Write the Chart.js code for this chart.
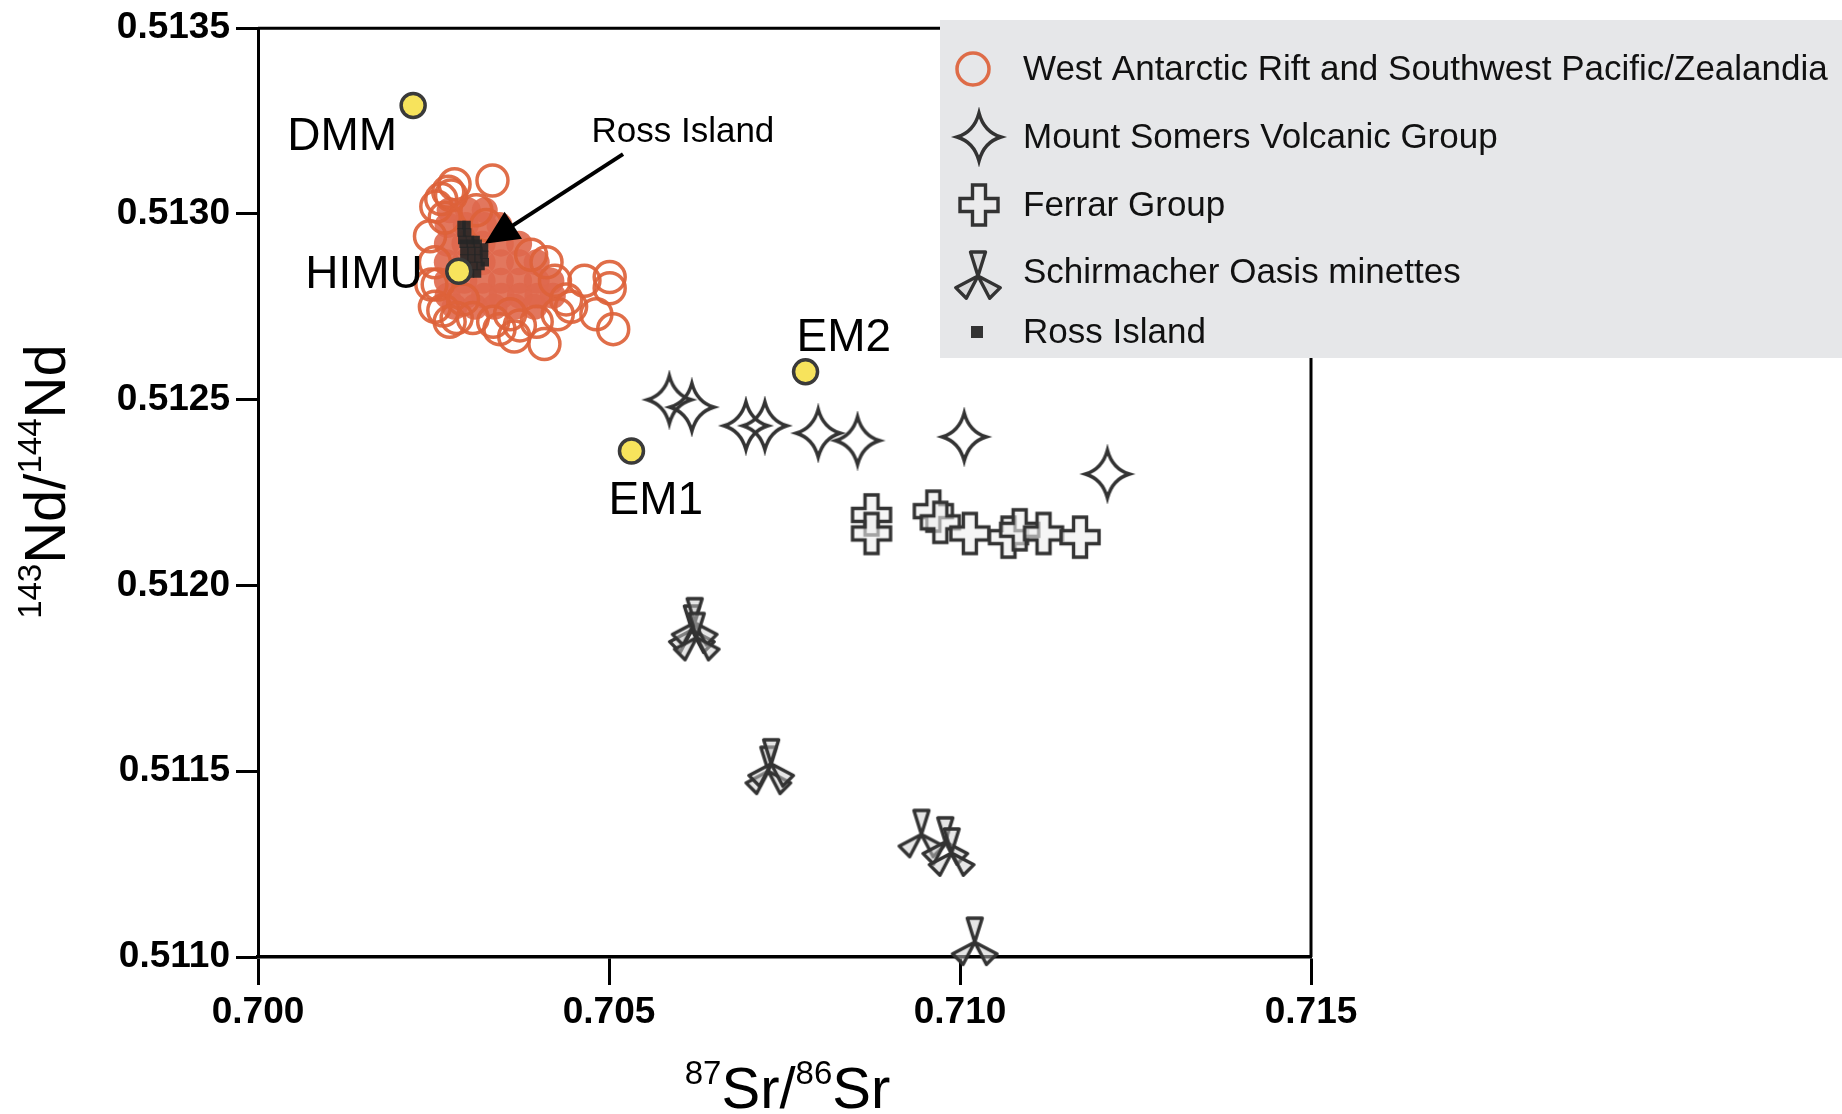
<!DOCTYPE html>
<html>
<head>
<meta charset="utf-8">
<title>87Sr/86Sr vs 143Nd/144Nd</title>
<script src="https://cdn.jsdelivr.net/npm/chart.js@4.4.1/dist/chart.umd.min.js"></script>
<style>
    html, body { margin: 0; padding: 0; background: #fff; }
    #wrap { width: 1842px; height: 1114px; }
</style>
</head>
<body>
<div id="wrap"><canvas id="srNdChart" width="1842" height="1114"></canvas></div>
<script>
// ======================
// Data (87Sr/86Sr, 143Nd/144Nd)
// ======================
const xTicks = [0.700, 0.705, 0.710, 0.715];
const xTickLabels = ['0.700', '0.705', '0.710', '0.715'];
const yTicks = [0.5110, 0.5115, 0.5120, 0.5125, 0.5130, 0.5135];
const yTickLabels = ['0.5110', '0.5115', '0.5120', '0.5125', '0.5130', '0.5135'];

// West Antarctic Rift and Southwest Pacific/Zealandia - open rings
const warRings = [
    [0.70334, 0.51309], [0.70271, 0.51306], [0.70275, 0.51305], [0.70254, 0.51302],
    [0.70261, 0.51304], [0.70245, 0.51294], [0.70252, 0.51287], [0.70256, 0.51281],
    [0.70252, 0.51275], [0.70264, 0.51274], [0.70283, 0.51272], [0.70306, 0.51272],
    [0.70292, 0.51277], [0.70335, 0.51271], [0.70373, 0.51270], [0.70311, 0.51301],
    [0.70325, 0.51297], [0.70389, 0.51289], [0.70411, 0.51287], [0.70423, 0.51282],
    [0.70465, 0.51282], [0.70501, 0.51283], [0.70501, 0.51280], [0.70446, 0.51275],
    [0.70482, 0.51273], [0.70506, 0.51269], [0.70408, 0.51265], [0.70397, 0.51271],
    [0.70427, 0.51273], [0.70439, 0.51277], [0.70359, 0.51273], [0.70280, 0.51308],
    [0.70266, 0.51299], [0.70247, 0.51281], [0.70273, 0.51271], [0.70365, 0.51267],
    [0.70344, 0.51269]
];

// densely packed part of the same group
const warCore = [
    [0.70273, 0.51301], [0.70299, 0.51301], [0.70323, 0.51301],
    [0.70270, 0.51297], [0.70296, 0.51297], [0.70322, 0.51297], [0.70344, 0.51297],
    [0.70269, 0.51292], [0.70294, 0.51292], [0.70320, 0.51292], [0.70346, 0.51292], [0.70372, 0.51292],
    [0.70269, 0.51287], [0.70294, 0.51287], [0.70320, 0.51287], [0.70346, 0.51287], [0.70372, 0.51287], [0.70397, 0.51287],
    [0.70269, 0.51282], [0.70294, 0.51282], [0.70320, 0.51282], [0.70346, 0.51282], [0.70372, 0.51282], [0.70397, 0.51282], [0.70418, 0.51282],
    [0.70270, 0.51278], [0.70296, 0.51278], [0.70322, 0.51278], [0.70347, 0.51278], [0.70373, 0.51278], [0.70398, 0.51278], [0.70420, 0.51278],
    [0.70280, 0.51275], [0.70309, 0.51275], [0.70337, 0.51275], [0.70366, 0.51275], [0.70394, 0.51275]
];

const mountSomers = [
    [0.70586, 0.51250], [0.70618, 0.51248], [0.70695, 0.51243], [0.70722, 0.51243],
    [0.70798, 0.51241], [0.70854, 0.51239], [0.71006, 0.51240], [0.71210, 0.51230]
];

const ferrar = [
    [0.70874, 0.51219], [0.70874, 0.51214], [0.70962, 0.51220], [0.70972, 0.51217],
    [0.71014, 0.51214], [0.71069, 0.51213], [0.71085, 0.51215], [0.71119, 0.51214],
    [0.71171, 0.51213]
];

const schirmacher = [
    [0.70618, 0.51188], [0.70622, 0.51190], [0.70625, 0.51186],
    [0.70727, 0.51150], [0.70731, 0.51152],
    [0.70945, 0.51133], [0.70979, 0.51131], [0.70988, 0.51128],
    [0.71021, 0.51104]
];

const rossIsland = [
    [0.70290, 0.51297], [0.70297, 0.51297], [0.70290, 0.51295], [0.70298, 0.51295],
    [0.70291, 0.51293], [0.70302, 0.51293], [0.70310, 0.51293], [0.70293, 0.51292],
    [0.70303, 0.51292], [0.70313, 0.51292], [0.70322, 0.51291], [0.70294, 0.51290],
    [0.70304, 0.51290], [0.70314, 0.51290], [0.70322, 0.51289], [0.70294, 0.51288],
    [0.70304, 0.51288], [0.70314, 0.51288], [0.70323, 0.51287], [0.70297, 0.51286],
    [0.70307, 0.51286], [0.70317, 0.51286], [0.70302, 0.51284], [0.70312, 0.51284]
];

// mantle end-members
const reservoirNames = ['DMM', 'HIMU', 'EM2', 'EM1'];
const reservoirSr = [0.70221, 0.70286, 0.70780, 0.70532];
const reservoirNd = [0.513292, 0.512846, 0.512575, 0.512362];

// Ross Island call-out (data units)
const rossLabelAt = [0.70475, 0.513195];
const rossArrowFrom = [0.70520, 0.513161];
const rossArrowTo = [0.70323, 0.512920];

const legendNames = [
    'West Antarctic Rift and Southwest Pacific/Zealandia',
    'Mount Somers Volcanic Group',
    'Ferrar Group',
    'Schirmacher Oasis minettes',
    'Ross Island'
];

const toPts = arr => arr.map(([x, y]) => ({ x, y }));

// ======================
// Marker glyphs
// ======================
const INK = '#333333';
const RING = 'rgba(221, 98, 58, 0.92)';

function makeMarker(size, draw) {
    const c = document.createElement('canvas');
    c.width = size;
    c.height = size;
    const g = c.getContext('2d');
    g.translate(size / 2, size / 2);
    draw(g);
    return c;
}

const starMark = makeMarker(60, g => {
    g.beginPath();
    g.moveTo(0, -24);
    g.quadraticCurveTo(5, -5, 22, 0);
    g.quadraticCurveTo(5, 5, 0, 24);
    g.quadraticCurveTo(-5, 5, -22, 0);
    g.quadraticCurveTo(-5, -5, 0, -24);
    g.closePath();
    g.lineWidth = 3.4;
    g.strokeStyle = INK;
    g.miterLimit = 6;
    g.stroke();
});

const crossMark = makeMarker(50, g => {
    const a = 6.5, h = 19, v = 20;
    g.beginPath();
    g.moveTo(-a, -v); g.lineTo(a, -v); g.lineTo(a, -a); g.lineTo(h, -a);
    g.lineTo(h, a); g.lineTo(a, a); g.lineTo(a, v); g.lineTo(-a, v);
    g.lineTo(-a, a); g.lineTo(-h, a); g.lineTo(-h, -a); g.lineTo(-a, -a);
    g.closePath();
    g.fillStyle = 'rgba(238, 238, 238, 0.6)';
    g.fill();
    g.lineWidth = 3.4;
    g.strokeStyle = INK;
    g.stroke();
});

const tripodMark = makeMarker(60, g => {
    [0, 135, -135].forEach(deg => {
        g.save();
        g.rotate(deg * Math.PI / 180);
        g.beginPath();
        g.moveTo(0, 0);
        g.lineTo(-7.5, -24);
        g.lineTo(7.5, -24);
        g.closePath();
        g.fillStyle = 'rgba(205, 205, 205, 0.5)';
        g.fill();
        g.lineWidth = 3.4;
        g.strokeStyle = INK;
        g.lineJoin = 'round';
        g.stroke();
        g.restore();
    });
});

// ======================
// Helpers for text with superscripts
// ======================
const FONT = '"Liberation Sans", Arial, Helvetica, sans-serif';

function drawRich(ctx, parts, cx, baseY, big, small) {
    let total = 0;
    parts.forEach(p => {
        ctx.font = (p.sup ? small : big) + 'px ' + FONT;
        p.w = ctx.measureText(p.t).width;
        total += p.w;
    });
    let x = cx - total / 2;
    ctx.textAlign = 'left';
    ctx.textBaseline = 'alphabetic';
    parts.forEach(p => {
        ctx.font = (p.sup ? small : big) + 'px ' + FONT;
        ctx.fillText(p.t, x, p.sup ? baseY - big * 0.42 : baseY);
        x += p.w;
    });
}

// ======================
// Overlay plugin: frame, call-outs, titles, legend
// ======================
const overlay = {
    id: 'overlay',
    beforeDatasetsDraw(chart) {
        const { ctx, chartArea: a } = chart;
        ctx.save();
        ctx.strokeStyle = '#000';
        ctx.lineWidth = 3;
        ctx.beginPath();
        ctx.moveTo(a.left, a.top);
        ctx.lineTo(a.right, a.top);
        ctx.lineTo(a.right, a.bottom);
        ctx.stroke();
        ctx.restore();
    },
    afterDatasetsDraw(chart) {
        const { ctx, chartArea: a } = chart;
        const xs = chart.scales.x, ys = chart.scales.y;
        ctx.save();
        ctx.fillStyle = '#000';

        // end-member labels
        const offsets = {
            DMM: { dx: -16, dy: 45, align: 'right' },
            HIMU: { dx: -36, dy: 17, align: 'right' },
            EM2: { dx: -9, dy: -21, align: 'left' },
            EM1: { dx: -23, dy: 63, align: 'left' }
        };
        ctx.font = '46px ' + FONT;
        ctx.textBaseline = 'alphabetic';
        reservoirNames.forEach((name, i) => {
            const o = offsets[name];
            ctx.textAlign = o.align;
            ctx.fillText(name, xs.getPixelForValue(reservoirSr[i]) + o.dx, ys.getPixelForValue(reservoirNd[i]) + o.dy);
        });

        // Ross Island arrow
        const x0 = xs.getPixelForValue(rossArrowFrom[0]), y0 = ys.getPixelForValue(rossArrowFrom[1]);
        const x1 = xs.getPixelForValue(rossArrowTo[0]), y1 = ys.getPixelForValue(rossArrowTo[1]);
        const len = Math.hypot(x1 - x0, y1 - y0);
        const ux = (x1 - x0) / len, uy = (y1 - y0) / len;
        const head = 34, half = 16;
        ctx.strokeStyle = '#000';
        ctx.lineWidth = 4;
        ctx.beginPath();
        ctx.moveTo(x0, y0);
        ctx.lineTo(x1 - ux * head * 0.8, y1 - uy * head * 0.8);
        ctx.stroke();
        ctx.beginPath();
        ctx.moveTo(x1, y1);
        ctx.lineTo(x1 - ux * head - uy * half, y1 - uy * head + ux * half);
        ctx.lineTo(x1 - ux * head + uy * half, y1 - uy * head - ux * half);
        ctx.closePath();
        ctx.fill();

        ctx.font = '35px ' + FONT;
        ctx.textAlign = 'left';
        ctx.fillText('Ross Island', xs.getPixelForValue(rossLabelAt[0]), ys.getPixelForValue(rossLabelAt[1]));

        // axis titles
        drawRich(ctx, [
            { t: '87', sup: true }, { t: 'Sr/' }, { t: '86', sup: true }, { t: 'Sr' }
        ], (a.left + a.right) / 2 + 3, a.bottom + 151, 58, 33);

        ctx.translate(65, (a.top + a.bottom) / 2 - 11);
        ctx.rotate(-Math.PI / 2);
        drawRich(ctx, [
            { t: '143', sup: true }, { t: 'Nd/' }, { t: '144', sup: true }, { t: 'Nd' }
        ], 0, 0, 58, 33);
        ctx.restore();
    },
    afterDraw(chart) {
        const { ctx } = chart;
        const left = 940, top = 20, rowY = [69, 137, 205, 272, 332];
        ctx.save();
        ctx.fillStyle = '#e6e7e9';
        ctx.fillRect(left, top, chart.width - left, 338);

        // markers
        ctx.strokeStyle = RING;
        ctx.lineWidth = 3.5;
        ctx.beginPath();
        ctx.arc(973, rowY[0], 16, 0, Math.PI * 2);
        ctx.stroke();
        ctx.drawImage(starMark, 979 - 30, rowY[1] - 30);
        ctx.drawImage(crossMark, 979 - 25, rowY[2] - 25);
        ctx.drawImage(tripodMark, 978 - 30, rowY[3] - 30 + 4);
        ctx.fillStyle = INK;
        ctx.fillRect(971, rowY[4] - 6, 12, 12);

        ctx.fillStyle = '#111';
        ctx.font = '35px ' + FONT;
        ctx.textAlign = 'left';
        ctx.textBaseline = 'middle';
        legendNames.forEach((name, i) => ctx.fillText(name, 1023, rowY[i] + 1));
        ctx.restore();
    }
};

// ======================
// Chart
// ======================
const tickFont = { family: FONT, size: 37, weight: 'bold' };

new Chart(document.getElementById('srNdChart'), {
    type: 'scatter',
    data: {
        datasets: [
            {
                label: 'End-members',
                data: reservoirSr.map((x, i) => ({ x, y: reservoirNd[i] })),
                pointStyle: 'circle',
                pointRadius: 12,
                backgroundColor: '#f7e35c',
                borderColor: '#3a3a3a',
                borderWidth: 3.5,
                order: 1
            },
            {
                label: legendNames[4],
                data: toPts(rossIsland),
                pointStyle: 'rect',
                pointRadius: 6,
                backgroundColor: 'rgba(38, 38, 38, 0.9)',
                borderWidth: 0,
                order: 2
            },
            {
                label: legendNames[3],
                data: toPts(schirmacher),
                pointStyle: tripodMark,
                clip: false,
                order: 3
            },
            {
                label: legendNames[1],
                data: toPts(mountSomers),
                pointStyle: starMark,
                clip: false,
                order: 4
            },
            {
                label: legendNames[2],
                data: toPts(ferrar),
                pointStyle: crossMark,
                clip: false,
                order: 5
            },
            {
                label: legendNames[0],
                data: toPts(warRings),
                pointStyle: 'circle',
                pointRadius: 15.5,
                backgroundColor: 'rgba(0, 0, 0, 0)',
                borderColor: RING,
                borderWidth: 3.5,
                order: 6
            },
            {
                label: legendNames[0] + ' (dense)',
                data: toPts(warCore),
                pointStyle: 'circle',
                pointRadius: 13,
                backgroundColor: 'rgba(223, 104, 76, 0.9)',
                borderWidth: 0,
                order: 7
            }
        ]
    },
    options: {
        responsive: false,
        animation: false,
        events: [],
        layout: { padding: { left: 0, right: 531, top: 23, bottom: 0 } },
        scales: {
            x: {
                type: 'linear',
                min: xTicks[0],
                max: xTicks[xTicks.length - 1],
                afterFit: s => { s.height = 157; },
                afterBuildTicks: s => { s.ticks = xTicks.map(v => ({ value: v })); },
                ticks: {
                    callback: (v, i) => xTickLabels[i],
                    font: tickFont,
                    color: '#000',
                    padding: 6,
                    maxRotation: 0
                },
                grid: {
                    drawOnChartArea: false,
                    drawTicks: true,
                    tickLength: 28,
                    tickWidth: 3,
                    tickColor: '#000'
                },
                border: { color: '#000', width: 3.5 }
            },
            y: {
                type: 'linear',
                min: yTicks[0],
                max: yTicks[yTicks.length - 1],
                afterFit: s => { s.width = 258; },
                afterBuildTicks: s => { s.ticks = yTicks.map(v => ({ value: v })); },
                ticks: {
                    callback: (v, i) => yTickLabels[i],
                    font: tickFont,
                    color: '#000',
                    padding: 6
                },
                grid: {
                    drawOnChartArea: false,
                    drawTicks: true,
                    tickLength: 22,
                    tickWidth: 3,
                    tickColor: '#000'
                },
                border: { color: '#000', width: 3 }
            }
        },
        plugins: {
            legend: { display: false },
            tooltip: { enabled: false }
        }
    },
    plugins: [overlay]
});
</script>
</body>
</html>
